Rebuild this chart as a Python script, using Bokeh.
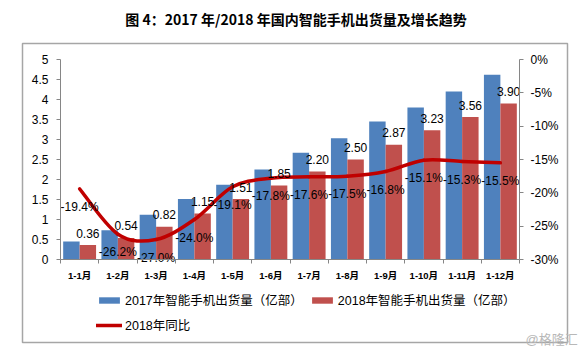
import numpy as np
from bokeh.plotting import figure
from bokeh.models import (Range1d, LinearAxis, FixedTicker, Legend, LegendItem, Label)
from bokeh.core.properties import value
from bokeh.embed import file_html
from bokeh.resources import INLINE

categories = ["1-1月", "1-2月", "1-3月", "1-4月", "1-5月", "1-6月",
              "1-7月", "1-8月", "1-9月", "1-10月", "1-11月", "1-12月"]
ship_2017 = [0.45, 0.73, 1.12, 1.51, 1.87, 2.25, 2.67, 3.03, 3.45, 3.80, 4.20, 4.62]
ship_2018 = [0.36, 0.54, 0.82, 1.15, 1.51, 1.85, 2.20, 2.50, 2.87, 3.23, 3.56, 3.90]
growth_2018 = [-19.4, -26.2, -27.0, -24.0, -19.1, -17.8, -17.6, -17.5, -16.8, -15.1, -15.3, -15.5]
left_ticks = [0, 0.5, 1, 1.5, 2, 2.5, 3, 3.5, 4, 4.5, 5]
left_tick_labels = ["0", "0.5", "1", "1.5", "2", "2.5", "3", "3.5", "4", "4.5", "5"]
right_ticks = [0, -5, -10, -15, -20, -25, -30]
right_tick_labels = ["0%", "-5%", "-10%", "-15%", "-20%", "-25%", "-30%"]
title_text = "图 4：2017 年/2018 年国内智能手机出货量及增长趋势"
legend_labels = ["2017年智能手机出货量（亿部）", "2018年智能手机出货量（亿部）", "2018年同比"]
watermark = "@格隆汇"

FONT = "Liberation Sans, Noto Sans CJK SC"
BLUE = "#4F81BD"
RED = "#C0504D"
LINE = "#C00000"
AXIS = "#868686"

# page layout (pixels)
W, H = 585, 352
FL, FR, FT, FB = 60, 519, 59, 259  # plot area edges
BOX = (22, 567, 43, 342)           # outer chart border: left, right, top, bottom

n = len(categories)
xc = np.arange(n, dtype=float)
bw = 0.43
LMAX, PMIN = left_ticks[-1], right_ticks[-1]

ux = (FR - FL) / n
x_start, x_end = -0.5 - FL / ux, n - 0.5 + (W - FR) / ux
uy = (FB - FT) / LMAX
y_start, y_end = -(H - FB) / uy, LMAX + FT / uy
up = (FB - FT) / (-PMIN)
p_start, p_end = PMIN - (H - FB) / up, FT / up

def xd(px):
    return x_start + px / W * (x_end - x_start)

def yd(py):
    return y_end - py / H * (y_end - y_start)

p = figure(width=W, height=H, output_backend="svg", toolbar_location=None, title=None,
           x_range=Range1d(x_start, x_end), y_range=Range1d(y_start, y_end),
           min_border_left=0, min_border_right=0, min_border_top=0, min_border_bottom=0)
p.extra_y_ranges = {"pct": Range1d(p_start, p_end)}
p.outline_line_color = None
p.xgrid.visible = False
p.ygrid.visible = False
p.background_fill_color = "white"
p.border_fill_color = "white"

# outer border of the chart box
p.quad(left=[xd(BOX[0])], right=[xd(BOX[1])], top=[yd(BOX[2])], bottom=[yd(BOX[3])],
       fill_color=None, line_color="#a6a6a6", line_width=1.5)

# bars
r17 = p.vbar(x=xc - bw / 2, top=ship_2017, width=bw, fill_color=BLUE, line_color=None)
r18 = p.vbar(x=xc + bw / 2, top=ship_2018, width=bw, fill_color=RED, line_color=None)

# smooth line (Bezier segments through the data points)
g = np.array(growth_2018, dtype=float)
xp = np.concatenate([[xc[0]], xc, [xc[-1]]])
gp = np.concatenate([[g[0]], g, [g[-1]]])
x0 = xc[:-1]; x1 = xc[1:]; y0 = g[:-1]; y1 = g[1:]
cx0 = x0 + (xp[2:-1] - xp[0:-3]) / 6.0
cy0 = y0 + (gp[2:-1] - gp[0:-3]) / 6.0
cx1 = x1 - (xp[3:] - xp[1:-2]) / 6.0
cy1 = y1 - (gp[3:] - gp[1:-2]) / 6.0
rl = p.bezier(x0=x0, y0=y0, x1=x1, y1=y1, cx0=cx0, cy0=cy0, cx1=cx1, cy1=cy1,
              y_range_name="pct", line_color=LINE, line_width=3.5, line_cap="round")

# data labels
p.text(x=xc + bw / 2, y=ship_2018, text=["%.2f" % v for v in ship_2018],
       text_align="center", text_baseline="middle", y_offset=-12,
       text_font=value(FONT), text_font_size="12px", text_color="black")
p.text(x=xc, y=growth_2018, y_range_name="pct", text=["%.1f%%" % v for v in growth_2018],
       text_align="center", text_baseline="middle", y_offset=18,
       text_font=value(FONT), text_font_size="12px", text_color="black")

# axes (drawn at fixed positions inside the full-canvas frame)
xa = p.xaxis[0]
xa.fixed_location = 0
xa.bounds = (-0.5, n - 0.5)
xa.ticker = FixedTicker(ticks=list(xc), minor_ticks=list(np.arange(n + 1) - 0.5))
xa.major_label_overrides = {int(i): c for i, c in enumerate(categories)}
xa.major_tick_line_color = None
xa.major_tick_out = 0
xa.minor_tick_out = 4
xa.minor_tick_in = 0
xa.minor_tick_line_color = AXIS
xa.axis_line_color = AXIS
xa.major_label_standoff = 6
xa.major_label_text_font = FONT
xa.major_label_text_font_size = "9.5px"
xa.major_label_text_font_style = "bold"
xa.major_label_text_color = "black"

ya = p.yaxis[0]
ya.fixed_location = -0.5
ya.bounds = (0, LMAX)
ya.ticker = FixedTicker(ticks=left_ticks)
ya.major_label_overrides = dict(zip(left_ticks, left_tick_labels))
ya.axis_line_color = AXIS
ya.major_tick_line_color = AXIS
ya.major_tick_out = 4
ya.major_tick_in = 0
ya.minor_tick_line_color = None
ya.major_label_standoff = 8
ya.major_label_text_font = FONT
ya.major_label_text_font_size = "12px"
ya.major_label_text_color = "black"

yr = LinearAxis(y_range_name="pct", ticker=FixedTicker(ticks=right_ticks),
                fixed_location=n - 0.5, bounds=(PMIN, 0))
yr.major_label_overrides = dict(zip(right_ticks, right_tick_labels))
yr.axis_line_color = AXIS
yr.major_tick_line_color = AXIS
yr.major_tick_out = 4
yr.major_tick_in = 0
yr.minor_tick_line_color = None
yr.major_label_standoff = 7
yr.major_label_text_font = FONT
yr.major_label_text_font_size = "12px"
yr.major_label_text_color = "black"
p.add_layout(yr, "right")

# title
p.add_layout(Label(x=xd(295.5), y=yd(18), text=title_text, text_align="center",
                   text_baseline="middle", text_font="Noto Sans CJK SC",
                   text_font_size="14px", text_font_style="bold", text_color="black"))

# legend
lg = Legend(items=[LegendItem(label=legend_labels[0], renderers=[r17]),
                   LegendItem(label=legend_labels[1], renderers=[r18]),
                   LegendItem(label=legend_labels[2], renderers=[rl])],
            location=(96, 18), orientation="horizontal", ncols=2,
            glyph_width=26, glyph_height=8, label_height=15, label_standoff=3,
            spacing=6, padding=0, margin=0, border_line_color=None,
            background_fill_alpha=0, label_text_font=FONT,
            label_text_font_size="12.5px", label_text_color="black")
p.add_layout(lg, "center")

# watermark
p.add_layout(Label(x=xd(525), y=yd(339), text=watermark, text_align="left",
                   text_baseline="middle", text_font=FONT, text_font_size="13px",
                   text_color="#b8b8b8"))

open("out.html", "w").write(file_html(p, INLINE))
